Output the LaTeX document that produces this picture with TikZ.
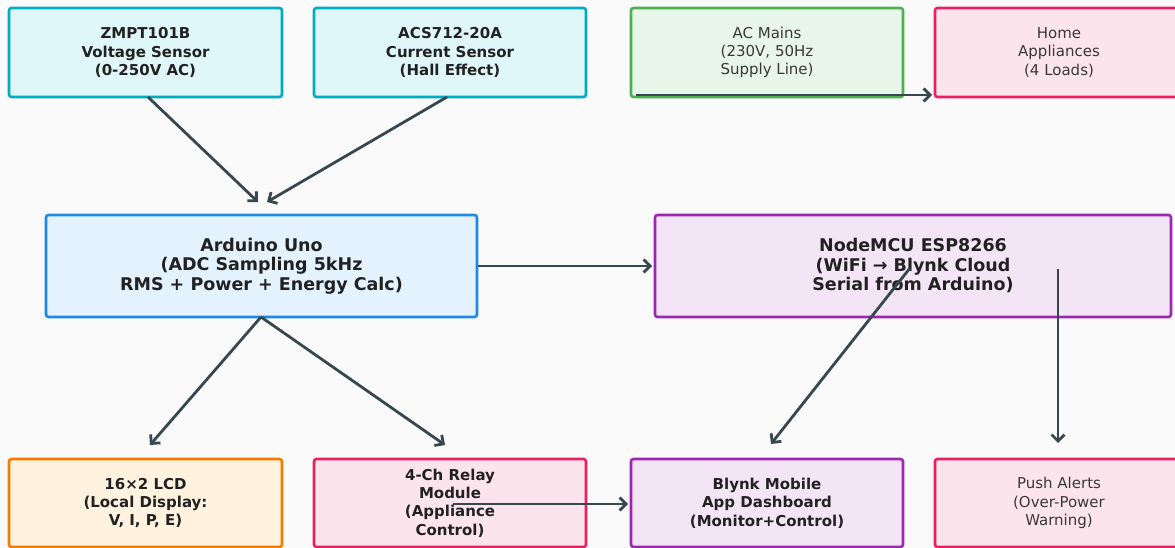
\documentclass[tikz,border=0pt]{standalone}
\usepackage{fontspec}
\setmainfont{DejaVu Sans}
\usetikzlibrary{arrows.meta}
\definecolor{bg}{HTML}{FAFAFA}
\definecolor{cyfill}{HTML}{E0F7FA}\definecolor{cydraw}{HTML}{00ACC1}
\definecolor{grfill}{HTML}{E8F5E9}\definecolor{grdraw}{HTML}{4CAF50}
\definecolor{pkfill}{HTML}{FCE4EC}\definecolor{pkdraw}{HTML}{E91E63}
\definecolor{blfill}{HTML}{E3F2FD}\definecolor{bldraw}{HTML}{1E88E5}
\definecolor{pufill}{HTML}{F3E5F5}\definecolor{pudraw}{HTML}{9C27B0}
\definecolor{orfill}{HTML}{FFF3E0}\definecolor{ordraw}{HTML}{F57C00}
\definecolor{arr}{HTML}{37474F}
\definecolor{txt}{HTML}{212121}
\tikzset{
  box/.style={draw, line width=2.6pt, rounded corners=2.5pt, align=center, text=txt, inner sep=0pt},
  sbold/.style={font=\fontsize{15}{18.3}\selectfont\bfseries},
  sreg/.style={font=\fontsize{15}{18.3}\selectfont, text=black!78},
  big/.style={font=\fontsize{17.5}{19.5}\selectfont\bfseries},
  conn/.style={draw=arr, line width=2.8pt, -{Straight Barb[length=6.5pt,width=13pt,line width=2.8pt]}},
}
\begin{document}
\begin{tikzpicture}[x=1pt,y=-1pt]
\useasboundingbox (0,0) rectangle (1175,548);
\fill[bg] (0,0) rectangle (1175,548);
\clip (0,0) rectangle (1175,548);
% top row
\node[box, sbold, fill=cyfill, draw=cydraw, minimum width=273pt, minimum height=89pt] (zmpt) at (145.5,52.5) {ZMPT101B\\Voltage Sensor\\(0-250V AC)};
\node[box, sbold, fill=cyfill, draw=cydraw, minimum width=272pt, minimum height=89pt] (acs) at (450,52.5) {ACS712-20A\\Current Sensor\\(Hall Effect)};
\node[box, sreg, fill=grfill, draw=grdraw, minimum width=272pt, minimum height=89pt] (mains) at (767,52.5) {AC Mains\\(230V, 50Hz\\Supply Line)};
\node[box, sreg, fill=pkfill, draw=pkdraw, minimum width=248pt, minimum height=89pt] (home) at (1059,52.5) {Home\\Appliances\\(4 Loads)};
% middle row
\node[box, big, fill=blfill, draw=bldraw, minimum width=431pt, minimum height=102pt] (ard) at (261.5,266) {Arduino Uno\\(ADC Sampling 5kHz\\RMS + Power + Energy Calc)};
\node[box, big, fill=pufill, draw=pudraw, minimum width=516pt, minimum height=102pt] (mcu) at (913,266) {NodeMCU ESP8266\\(WiFi → Blynk Cloud\\Serial from Arduino)};
% bottom row
\node[box, sbold, fill=orfill, draw=ordraw, minimum width=273pt, minimum height=88pt] (lcd) at (145.5,503) {16×2 LCD\\(Local Display:\\V, I, P, E)};
\node[box, sbold, fill=pkfill, draw=pkdraw, minimum width=272pt, minimum height=88pt] (relay) at (450,503) {4-Ch Relay\\Module\\(Appliance\\Control)};
\node[box, sbold, fill=pufill, draw=pudraw, minimum width=272pt, minimum height=88pt] (blynk) at (767,503) {Blynk Mobile\\App Dashboard\\(Monitor+Control)};
\node[box, sreg, fill=pkfill, draw=pkdraw, minimum width=248pt, minimum height=88pt] (push) at (1059,503) {Push Alerts\\(Over-Power\\Warning)};
% connector endpoints
\coordinate (zS) at (148,97);   \coordinate (zE) at (258,202);
\coordinate (aS) at (447,97);   \coordinate (aE) at (267,202);
\coordinate (mS) at (636,95);   \coordinate (mE) at (932,95);
\coordinate (ardR) at (478,266); \coordinate (mcuL) at (652,266);
\coordinate (ardB) at (261,317);
\coordinate (lcdT) at (150,445); \coordinate (relT) at (445,445);
\coordinate (mS1) at (910,268); \coordinate (blT) at (771,444);
\coordinate (mS2) at (1058,269); \coordinate (puT) at (1058,443);
\coordinate (rS) at (453,504); \coordinate (blL) at (628,504);
\draw[conn] (zS) -- (zE);
\draw[conn] (aS) -- (aE);
\draw[conn] (mS) -- (mE);
\draw[conn] (ardR) -- (mcuL);
\draw[conn] (ardB) -- (lcdT);
\draw[conn] (ardB) -- (relT);
\draw[conn] (mS1) -- (blT);
\draw[conn] (mS2) -- (puT);
\draw[conn] (rS) -- (blL);
\end{tikzpicture}
\end{document}
